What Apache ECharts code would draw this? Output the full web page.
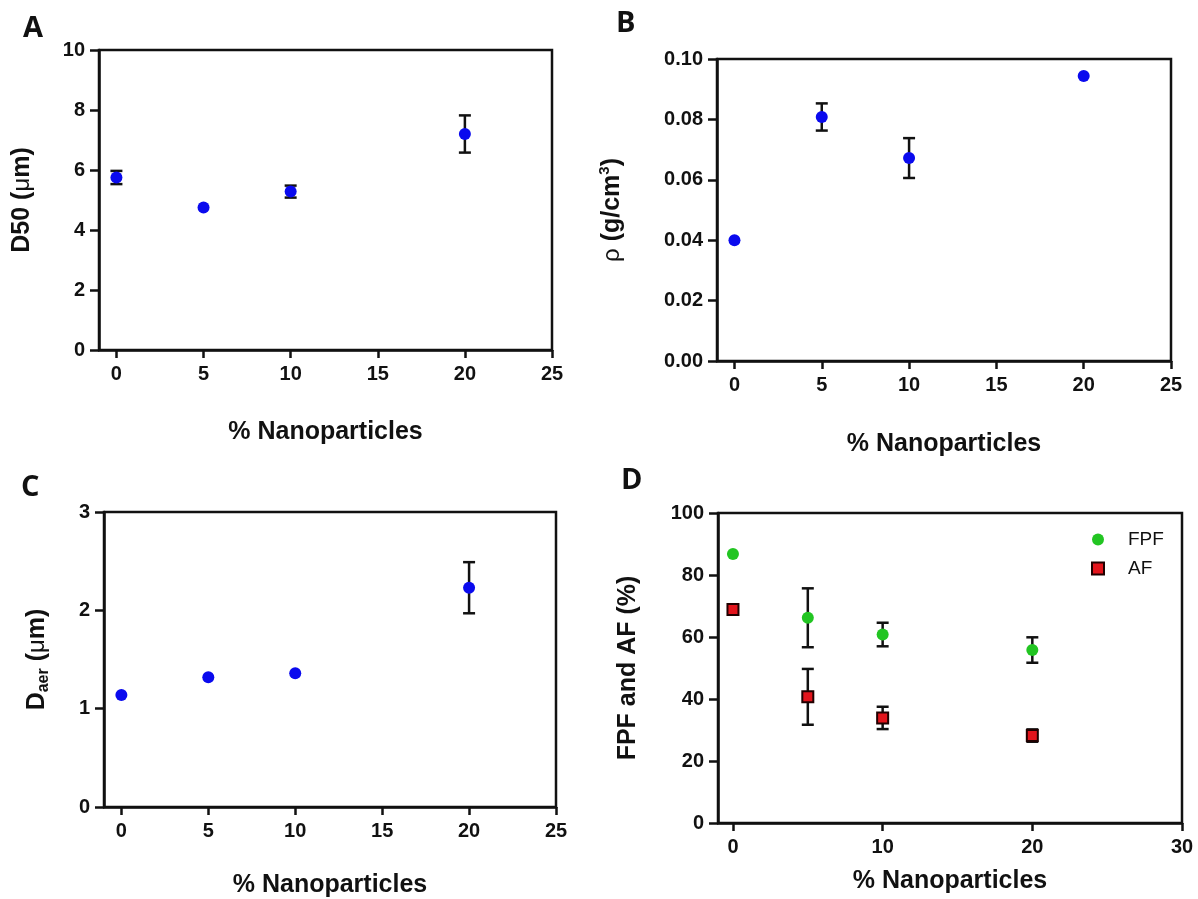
<!DOCTYPE html>
<html>
<head>
<meta charset="utf-8">
<style>
  html, body { margin: 0; padding: 0; background: #fff; }
  #chart { width: 1198px; height: 899px; }
</style>
<script src="https://cdn.jsdelivr.net/npm/echarts@6/dist/echarts.min.js"></script>
</head>
<body>
<div id="chart"></div>
<script>
// Nanoparticle loading (%) for each formulation
const loading = [0, 5, 10, 20];

// Panel A: median geometric diameter D50 (µm), mean and SD
const d50 = [5.75, 4.75, 5.28, 7.2];
const d50Sd = [0.22, 0, 0.2, 0.62];

// Panel B: tapped density (g/cm3)
const density = [0.040, 0.0808, 0.0672, 0.0944];
const densitySd = [0, 0.0045, 0.0066, 0];

// Panel C: aerodynamic diameter (µm)
const daer = [1.14, 1.32, 1.36, 2.23];
const daerSd = [0, 0, 0, 0.26];

// Panel D: fine particle fraction and alveolar fraction (%)
const fpf = [86.8, 66.2, 60.8, 55.8];
const fpfSd = [0, 9.5, 3.8, 4.1];
const af = [68.9, 40.7, 33.9, 28.2];
const afSd = [0, 9, 3.6, 2];

// Tick values
const xTicks = [0, 5, 10, 15, 20, 25];
const xTicksD = [0, 10, 20, 30];

const FONT = '"Liberation Sans", Arial, sans-serif';
const INK = '#111';
const BLUE = '#0a0aee';
const GREEN = '#22c522';
const RED = '#e3141c';

const chart = echarts.init(document.getElementById('chart'), null, { renderer: 'canvas' });

const pts = (xs, ys) => xs.map((x, i) => [x, ys[i]]);
const errPts = (xs, ys, es) => xs.map((x, i) => [x, ys[i], es[i]]);

// Vertical SD bars with caps, drawn beneath the symbols
function errorBars(idx, data) {
  return {
    type: 'custom',
    xAxisIndex: idx, yAxisIndex: idx,
    z: 2, silent: true,
    encode: { x: 0, y: 1 },
    data: data,
    renderItem: function (params, api) {
      const x = api.value(0), y = api.value(1), e = api.value(2);
      if (!e) return null;
      const hi = api.coord([x, y + e]);
      const lo = api.coord([x, y - e]);
      const hw = 6;
      const st = { stroke: INK, lineWidth: 2.5 };
      return {
        type: 'group',
        children: [
          { type: 'line', shape: { x1: hi[0], y1: hi[1], x2: lo[0], y2: lo[1] }, style: st },
          { type: 'line', shape: { x1: hi[0] - hw, y1: hi[1], x2: hi[0] + hw, y2: hi[1] }, style: st },
          { type: 'line', shape: { x1: lo[0] - hw, y1: lo[1], x2: lo[0] + hw, y2: lo[1] }, style: st }
        ]
      };
    }
  };
}

function xAxisFor(idx, max, ticks, nameGap) {
  return {
    type: 'value', gridIndex: idx, min: -1, max: max,
    name: '% Nanoparticles', nameLocation: 'middle', nameGap: nameGap,
    nameTextStyle: { fontFamily: FONT, fontWeight: 'bold', fontSize: 25, color: INK },
    axisLine: { onZero: false, lineStyle: { color: INK, width: 2.5 } },
    axisTick: { show: true, length: 8, lineStyle: { color: INK, width: 2.5 }, customValues: ticks },
    axisLabel: { fontFamily: FONT, fontWeight: 'bold', fontSize: 20, color: INK, margin: 14, customValues: ticks },
    splitLine: { show: false }
  };
}

function yAxisFor(idx, max, interval, name, nameGap, rich, fmt) {
  return {
    type: 'value', gridIndex: idx, min: 0, max: max, interval: interval,
    name: name, nameLocation: 'middle', nameGap: nameGap, nameRotate: 90,
    nameTextStyle: Object.assign({ fontFamily: FONT, fontWeight: 'bold', fontSize: 25, color: INK }, rich ? { rich: rich } : {}),
    axisLine: { onZero: false, lineStyle: { color: INK, width: 2.5 } },
    axisTick: { show: true, length: 9, lineStyle: { color: INK, width: 2.5 } },
    axisLabel: { fontFamily: FONT, fontWeight: 'bold', fontSize: 20, color: INK, margin: 14, formatter: fmt },
    splitLine: { show: false }
  };
}

const base = { fontFamily: FONT, fontWeight: 'bold', fontSize: 25, color: INK, lineHeight: 30 };
const greek = { fontFamily: FONT, fontWeight: 'normal', fontSize: 24, color: INK, lineHeight: 30 };
const richSet = {
  b: base,
  m: greek,
  g: greek,
  sup: { fontFamily: FONT, fontWeight: 'bold', fontSize: 15, color: INK, lineHeight: 30, verticalAlign: 'top', padding: [0, 0, 10, 0] },
  sub: { fontFamily: FONT, fontWeight: 'bold', fontSize: 16, color: INK, lineHeight: 30, verticalAlign: 'bottom', padding: [8, 0, 0, 0] }
};

const gridStyle = { show: true, borderColor: INK, borderWidth: 2.5, backgroundColor: 'transparent', containLabel: false };

const scatter = (idx, name, data, color, symbol, extra) => Object.assign({
  type: 'scatter', name: name, xAxisIndex: idx, yAxisIndex: idx, z: 3,
  symbol: symbol, symbolSize: 12, data: data,
  itemStyle: { color: color, opacity: 1 }
}, extra || {});

const panelLetter = (text, x, y) => ({
  type: 'text', left: x, top: y,
  style: { text: text, font: 'bold 29px "Open Sans", "Liberation Sans", sans-serif', fill: INK }
});

chart.setOption({
  animation: false,
  backgroundColor: '#fff',
  grid: [
    Object.assign({ left: 99, top: 50, width: 453, height: 300 }, gridStyle),
    Object.assign({ left: 717, top: 59, width: 454, height: 302 }, gridStyle),
    Object.assign({ left: 104, top: 512, width: 452, height: 300 }, gridStyle),
    Object.assign({ left: 718, top: 513, width: 464, height: 310 }, gridStyle)
  ],
  xAxis: [
    xAxisFor(0, 25, xTicks, 70),
    xAxisFor(1, 25, xTicks, 71),
    xAxisFor(2, 25, xTicks, 66),
    xAxisFor(3, 30, xTicksD, 46)
  ],
  yAxis: [
    yAxisFor(0, 10, 2, '{b|D50 (}{m|μ}{b|m)}', 62, richSet, v => String(v)),
    yAxisFor(1, 0.1, 0.02, '{g|ρ}{b| (g/cm}{sup|3}{b|)}', 90, richSet, v => v.toFixed(2)),
    yAxisFor(2, 3, 1, '{b|D}{sub|aer}{b| (}{m|μ}{b|m)}', 52, richSet, v => String(v)),
    yAxisFor(3, 100, 20, 'FPF and AF (%)', 77, null, v => String(v))
  ],
  legend: {
    show: true, orient: 'vertical', left: 1086, top: 525,
    itemWidth: 12, itemHeight: 12, itemGap: 10,
    selectedMode: false,
    textStyle: { fontFamily: FONT, fontSize: 19, color: INK, padding: [0, 0, 0, 19] },
    data: ['FPF', 'AF']
  },
  graphic: [
    panelLetter('A', 23, 14),
    panelLetter('B', 616, 9),
    panelLetter('C', 21, 473),
    panelLetter('D', 621, 466)
  ],
  series: [
    errorBars(0, errPts(loading, d50, d50Sd)),
    scatter(0, 'D50', pts(loading, d50), BLUE, 'circle'),
    errorBars(1, errPts(loading, density, densitySd)),
    scatter(1, 'density', pts(loading, density), BLUE, 'circle'),
    errorBars(2, errPts(loading, daer, daerSd)),
    scatter(2, 'Daer', pts(loading, daer), BLUE, 'circle'),
    errorBars(3, errPts(loading, fpf, fpfSd)),
    errorBars(3, errPts(loading, af, afSd)),
    scatter(3, 'FPF', pts(loading, fpf), GREEN, 'circle'),
    scatter(3, 'AF', pts(loading, af), RED, 'rect', {
      symbolSize: 11,
      itemStyle: { color: RED, borderColor: '#200000', borderWidth: 2, opacity: 1 }
    })
  ]
});
</script>
</body>
</html>
